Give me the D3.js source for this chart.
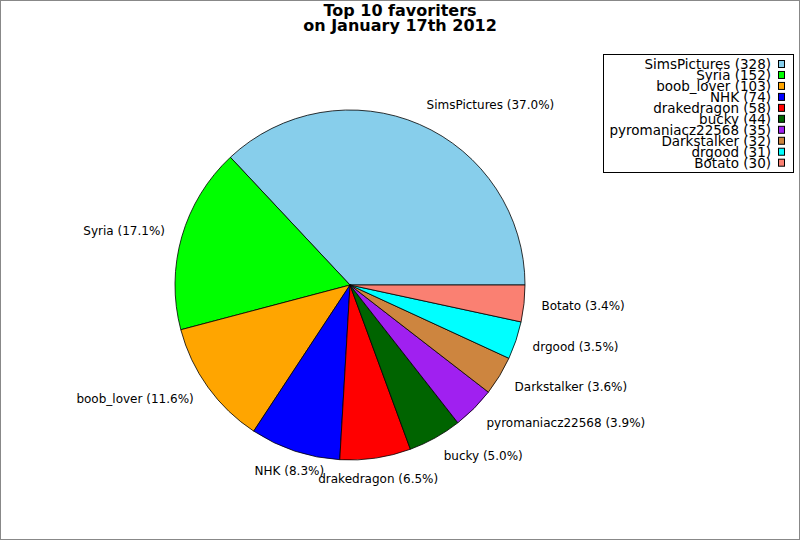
<!DOCTYPE html>
<html>
<head>
<meta charset="utf-8">
<script src="https://cdn.jsdelivr.net/npm/d3@7"></script>
<style>
  body { margin: 0; background: #fff; }
  svg { display: block; font-family: "DejaVu Sans", sans-serif; }
</style>
</head>
<body>
<script>
const names = ["SimsPictures", "Syria", "boob_lover", "NHK", "drakedragon", "bucky", "pyromaniacz22568", "Darkstalker", "drgood", "Botato"];
const counts = [328, 152, 103, 74, 58, 44, 35, 32, 31, 30];
const colors = ["#87CEEB", "#00FF00", "#FFA500", "#0000FF", "#FF0000", "#006400", "#A020F0", "#CD853F", "#00FFFF", "#FA8072"];
const titleLines = ["Top 10 favoriters", "on January 17th 2012"];

const width = 800, height = 540;
const cx = 350, cy = 285, r = 175;

const svg = d3.select('body')
    .append('svg')
    .attr('width', width)
    .attr('height', height)

svg.append('rect')
    .attr('x', 0.5).attr('y', 0.5)
    .attr('width', width - 1).attr('height', height - 1)
    .attr('fill', '#fff')
    .attr('stroke', '#888')

const total = d3.sum(counts);
const data = names.map((n, i) => ({ name: n, value: counts[i], color: colors[i] }));

// counter-clockwise from 3 o'clock
const pie = d3.pie().value(d => d.value).sort(null)
    .startAngle(Math.PI / 2).endAngle(Math.PI / 2 - 2 * Math.PI);
const arcs = pie(data);
const arc = d3.arc().innerRadius(0).outerRadius(r);

const g = svg.append('g').attr('transform', `translate(${cx},${cy})`);

g.selectAll('path')
    .data(arcs)
    .join('path')
    .attr('d', arc)
    .attr('fill', d => d.data.color)
    .attr('stroke', '#000')
    .attr('stroke-width', 0.8)
    .attr('stroke-linejoin', 'round')

g.selectAll('text.lbl')
    .data(arcs)
    .join('text')
    .attr('class', 'lbl')
    .attr('x', d => {
        const a = (d.startAngle + d.endAngle) / 2;
        return 1.1 * r * Math.sin(a);
    })
    .attr('y', d => {
        const a = (d.startAngle + d.endAngle) / 2;
        return -1.12 * r * Math.cos(a);
    })
    .attr('text-anchor', d => {
        const s = Math.sin((d.startAngle + d.endAngle) / 2);
        if (Math.abs(s) < 0.35) return 'middle';
        return s > 0 ? 'start' : 'end';
    })
    .attr('dominant-baseline', 'central')
    .attr('font-size', 12)
    .attr('fill', '#000')
    .text(d => `${d.data.name} (${(d.data.value / total * 100).toFixed(1)}%)`)

// title
svg.append('g').selectAll('text')
    .data(titleLines)
    .join('text')
    .attr('x', 400)
    .attr('y', (d, i) => 16 + i * 14.5)
    .attr('text-anchor', 'middle')
    .attr('font-size', 16)
    .attr('font-weight', 'bold')
    .text(d => d)

// legend
const legend = svg.append('g');
legend.append('rect')
    .attr('x', 603.5).attr('y', 54.5)
    .attr('width', 190).attr('height', 118)
    .attr('fill', '#fff')
    .attr('stroke', '#000')

const rowY = d3.scaleLinear().domain([0, names.length - 1]).range([64, 162.7]);

legend.selectAll('text')
    .data(data)
    .join('text')
    .attr('x', 771)
    .attr('y', (d, i) => rowY(i))
    .attr('text-anchor', 'end')
    .attr('dominant-baseline', 'central')
    .attr('font-size', 13.5)
    .text(d => `${d.name} (${d.value})`)

legend.selectAll('rect.sw')
    .data(data)
    .join('rect')
    .attr('class', 'sw')
    .attr('x', 778.5)
    .attr('y', (d, i) => rowY(i) - 3.5)
    .attr('width', 6)
    .attr('height', 7)
    .attr('fill', d => d.color)
    .attr('stroke', '#000')
    .attr('stroke-width', 1)
</script>
</body>
</html>
